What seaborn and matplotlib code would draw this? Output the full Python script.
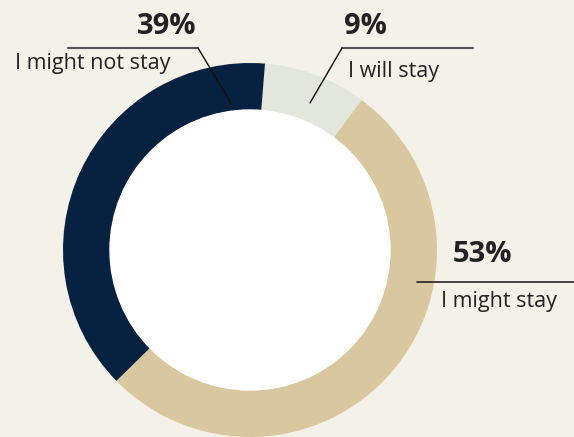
import matplotlib
matplotlib.use("Agg")
import matplotlib.pyplot as plt
import seaborn as sns

categories = ["I will stay", "I might stay", "I might not stay"]
values = [9, 53, 39]
pct_labels = ["9%", "53%", "39%"]
colors = ["#e3e6dd", "#d9c7a0", "#072241"]

sns.set_theme(style="white")
plt.rcParams['font.family'] = ['Open Sans', 'DejaVu Sans']

W, H = 574, 437
fig = plt.figure(figsize=(W / 100, H / 100), dpi=100)
fig.patch.set_facecolor("#f4f1e9")
ax = fig.add_axes([0, 0, 1, 1])
ax.set_facecolor("#f4f1e9")

cx, cy, R = 250, H - 250, 187
ax.pie(values, colors=colors, startangle=90 - 4.6, counterclock=False,
       center=(cx, cy), radius=R, wedgeprops=dict(width=R - 140, linewidth=0),
       frame=True)
ax.add_patch(plt.Circle((cx, cy), 140, color="white", zorder=3))
ax.set_xlim(0, W)
ax.set_ylim(0, H)
ax.set_aspect("equal")
ax.axis("off")

def y(p):
    return H - p

txt = "#222222"
big = 21
small = 15.5
# 39% label
ax.plot([68, 198], [y(48), y(48)], color="#555555", lw=1.5)
ax.plot([198, 231], [y(48), y(103)], color="#111111", lw=1)
ax.text(167, y(26), pct_labels[2], ha="center", va="center", fontsize=big, fontweight="bold", color=txt)
ax.text(15, y(64), categories[2], ha="left", va="center", fontsize=small, color=txt)
# 9% label
ax.plot([342, 473], [y(48), y(48)], color="#555555", lw=1.5)
ax.plot([342, 310], [y(48), y(103)], color="#111111", lw=1)
ax.text(365, y(27), pct_labels[0], ha="center", va="center", fontsize=big, fontweight="bold", color=txt)
ax.text(348, y(71), categories[0], ha="left", va="center", fontsize=small, color=txt)
# 53% label
ax.plot([417, 574], [y(282), y(282)], color="#222222", lw=1.2)
ax.text(482, y(255), pct_labels[1], ha="center", va="center", fontsize=big, fontweight="bold", color=txt)
ax.text(441, y(302), categories[1], ha="left", va="center", fontsize=small, color=txt)

fig.savefig("out.png", dpi=100, facecolor=fig.get_facecolor())
